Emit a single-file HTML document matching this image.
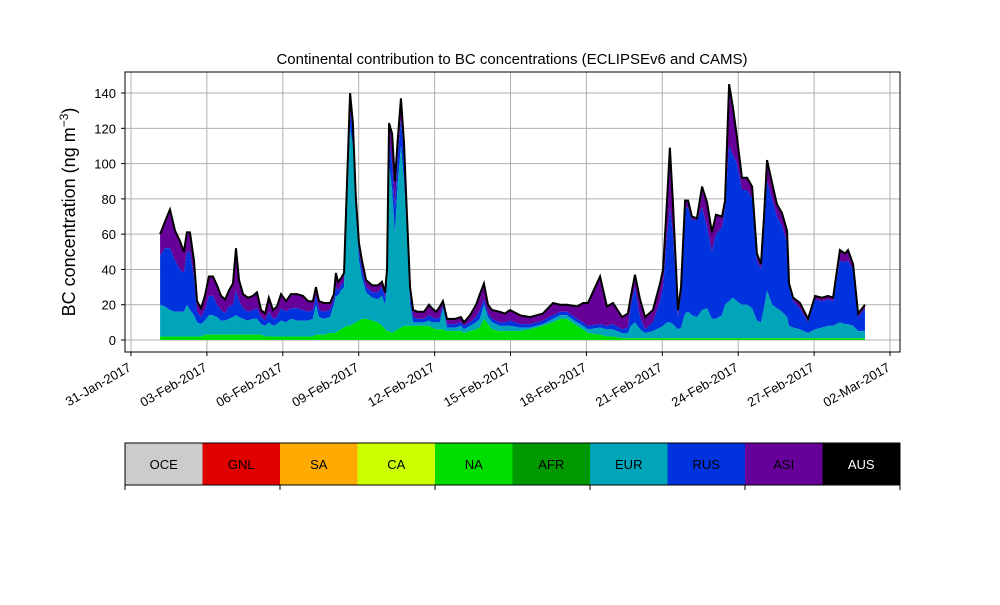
<!DOCTYPE html>
<html><head><meta charset="utf-8"><style>
body{margin:0;background:#fff;}
svg text{font-family:"Liberation Sans",sans-serif;}
</style></head><body>
<svg id="chart" width="1000" height="600" viewBox="0 0 1000 600">
<text x="512" y="64" font-size="15" text-anchor="middle">Continental contribution to BC concentrations (ECLIPSEv6 and CAMS)</text>
<text transform="translate(75,212) rotate(-90)" font-size="18" text-anchor="middle">BC concentration (ng m<tspan dy="-7" font-size="12">−3</tspan><tspan dy="7">)</tspan></text>
<g id="grid"></g><g id="areas"></g><g id="axes"></g><g id="legend"></g>
</svg>
<script>
const days=[1.15,1.34,1.54,1.74,1.94,2.09,2.21,2.33,2.49,2.61,2.77,2.92,3.08,3.24,3.40,3.56,3.72,3.87,4.03,4.15,4.27,4.43,4.62,4.82,4.98,5.14,5.30,5.45,5.61,5.77,5.93,6.13,6.32,6.56,6.80,7.00,7.19,7.31,7.43,7.63,7.87,8.02,8.10,8.18,8.30,8.42,8.54,8.66,8.77,8.89,9.01,9.13,9.29,9.53,9.76,9.92,10.04,10.12,10.20,10.32,10.43,10.55,10.67,10.79,10.91,11.03,11.15,11.34,11.58,11.78,11.90,12.06,12.21,12.33,12.49,12.81,13.04,13.16,13.40,13.64,13.79,13.95,14.11,14.27,14.58,14.78,14.98,15.38,15.77,16.28,16.68,16.96,17.23,17.63,17.87,18.06,18.54,18.81,19.05,19.41,19.64,19.76,19.92,20.12,20.32,20.63,20.91,21.03,21.19,21.30,21.42,21.62,21.74,21.90,22.02,22.17,22.37,22.57,22.77,22.96,23.12,23.36,23.48,23.64,23.79,23.95,24.15,24.35,24.55,24.74,24.90,25.02,25.14,25.34,25.53,25.73,25.93,26.01,26.17,26.44,26.76,27.04,27.31,27.55,27.75,28.02,28.22,28.34,28.54,28.74,29.01];
const stackTotal=[60,67,74,62,56,50,61,61,45,22,18,25,36,36,31,25,23,28,32,52,34,26,24,25,27,17,15,24,17,19,26,22,26,26,25,22,22,30,22,21,21,26,38,33,35,38,90,140,123,80,55,45,34,31,31,33,27,40,123,117,90,115,137,112,70,30,17,16,16,20,18,16,19,22,12,12,13,10,14,20,26,32,20,17,16,15,17,14,13,15,21,20,20,19,21,21,36,19,21,13,15,25,37,23,13,17,32,40,80,109,78,17,30,79,79,70,69,87,78,61,71,70,79,145,132,115,92,92,87,49,43,70,102,89,77,72,62,32,24,21,12,25,24,25,24,51,49,51,43,15,20];
const stackRUS=[48,52,52,45,40,38,50,50,35,16,13,17,25,25,20,17,15,19,20,28,22,18,16,17,18,13,11,16,12,13,18,16,18,18,17,16,17,25,17,16,17,23,30,28,31,33,82,130,118,76,50,40,30,27,27,30,24,36,115,100,75,105,125,105,68,25,13,12,12,14,13,12,13,20,9,9,10,8,10,13,17,23,15,12,10,10,11,9,9,11,14,16,16,12,10,8,9,8,9,6,7,20,30,13,6,10,22,30,60,75,60,13,25,75,75,68,68,75,64,50,60,64,75,110,105,100,85,85,80,45,40,65,90,80,70,65,55,30,22,18,10,23,22,23,22,45,44,45,40,13,18];
const stackEUR=[20,19,17,16,16,16,20,17,14,10,9,11,14,14,13,11,11,12,13,14,13,12,11,12,12,9,8,10,8,9,11,10,12,11,11,11,12,20,13,12,13,20,25,25,28,30,75,120,110,72,45,35,27,24,23,25,20,30,100,85,60,90,110,90,60,20,10,10,10,11,10,10,10,18,7,7,8,6,8,10,12,20,13,10,8,8,8,7,7,9,12,14,14,10,8,6,7,6,6,4,4,8,10,6,4,5,7,8,10,10,9,6,7,15,16,14,13,17,18,12,12,14,20,22,24,22,20,20,18,11,10,18,28,20,18,16,13,8,7,6,4,6,7,8,8,10,9,9,8,5,5];
const stackNA=[2,2,2,2,2,2,2,2,2,2,2,3,3,3,3,3,3,3,3,3,3,3,3,3,3,3,2,2,2,2,2,2,2,2,2,2,2,3,3,3,4,4,4,5,6,7,8,8,9,10,11,12,12,11,10,8,6,5,5,4,5,6,7,8,8,8,8,8,8,8,7,6,6,6,5,5,5,4,5,6,7,12,9,6,5,5,5,5,6,8,10,12,12,8,6,4,3,2,2,1,1,1,1,1,1,1,1,1,1,1,1,1,1,1,1,1,1,1,1,1,1,1,1,1,1,1,1,1,1,1,1,1,1,1,1,1,1,1,1,1,1,1,1,1,1,1,1,1,1,1,1];
const yTicks=[0,20,40,60,80,100,120,140];
const xTickDays=[0,3,6,9,12,15,18,21,24,27,30];
const xTickLabels=["31-Jan-2017","03-Feb-2017","06-Feb-2017","09-Feb-2017","12-Feb-2017","15-Feb-2017","18-Feb-2017","21-Feb-2017","24-Feb-2017","27-Feb-2017","02-Mar-2017"];
const legendNames=["OCE","GNL","SA","CA","NA","AFR","EUR","RUS","ASI","AUS"];
const legendColors=["#cccccc","#e00000","#ffaa00","#ccff00","#00dd00","#009900","#00a5ba","#0033dd","#660099","#000000"];

const NS="http://www.w3.org/2000/svg";
const X=d=>131+d*25.3, Y=v=>340-v*1.764;
function mk(tag,attrs,parent){const e=document.createElementNS(NS,tag);for(const k in attrs)e.setAttribute(k,attrs[k]);parent.appendChild(e);return e;}
const grid=document.getElementById('grid'),areas=document.getElementById('areas'),axes=document.getElementById('axes'),legend=document.getElementById('legend');
yTicks.forEach(v=>{
 const l=mk('line',{x1:125,x2:900,y1:Y(v),y2:Y(v),stroke:'#b0b0b0','stroke-width':1},grid);
 
 
 const t=mk('line',{x1:121,x2:125,y1:Y(v),y2:Y(v),stroke:'#000'},axes);
 
 
 const tx=mk('text',{x:116,y:Y(v)+5,'font-size':13,'text-anchor':'end'},axes);tx.textContent=v;
 
 
});
xTickDays.forEach((d,i)=>{
 const l=mk('line',{x1:X(d),x2:X(d),y1:72,y2:352,stroke:'#b0b0b0','stroke-width':1},grid);
 
 
 const t=mk('line',{x1:X(d),x2:X(d),y1:352,y2:356,stroke:'#000'},axes);
 
 
 const tx=mk('text',{transform:`translate(${X(d)+1},${370}) rotate(-30)`,'font-size':13,'text-anchor':'end'},axes);tx.textContent=xTickLabels[i];
 
 
});
function band(top,bottom,color,name){
 let p='M'+days.map((d,i)=>X(d)+','+Y(top[i])).join('L');
 for(let i=days.length-1;i>=0;i--)p+='L'+X(days[i])+','+Y(bottom?bottom[i]:0);
 const e=mk('path',{d:p+'Z',fill:color},areas);
 
 
}
band(stackTotal,stackRUS,'#660099','asi-area');
band(stackRUS,stackEUR,'#0033dd','rus-area');
band(stackEUR,stackNA,'#00a5ba','eur-area');
band(stackNA,null,'#00dd00','na-area');
const ln=mk('path',{d:'M'+days.map((d,i)=>X(d)+','+Y(stackTotal[i])).join('L'),fill:'none',stroke:'#000','stroke-width':2},areas);


const fr=mk('rect',{x:125,y:72,width:775,height:280,fill:'none',stroke:'#000'},axes);


const w=77.5;
legendNames.forEach((n,i)=>{
 const r=mk('rect',{x:125+i*w,y:443,width:w,height:42,fill:legendColors[i]},legend);
 
 
 const t=mk('text',{x:125+i*w+w/2,y:469,'font-size':13,'text-anchor':'middle',fill:n==='AUS'?'#fff':'#000'},legend);t.textContent=n;
 
 
});
const lf=mk('rect',{x:125,y:443,width:775,height:42,fill:'none',stroke:'#000'},legend);


[0,2,4,6,8,10].forEach(k=>{
 const t=mk('line',{x1:125+k*w,x2:125+k*w,y1:485,y2:490,stroke:'#000'},legend);
 
 
});
</script>
</body></html>
